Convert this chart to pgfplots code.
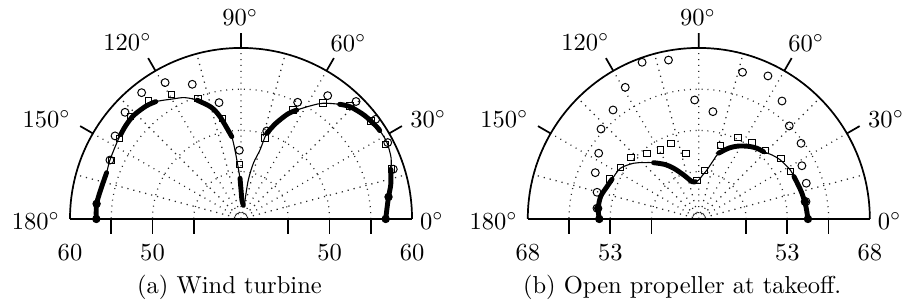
\documentclass[border=0pt]{standalone}
\usepackage{pgfplots}
\pgfplotsset{compat=1.18}
\usepgfplotslibrary{polar}
\pgfplotsset{
  mypolar/.style={
    scale only axis, width=139.5pt,
    xmin=0, xmax=180,
    xtick={30,60,...,150},
    minor xtick={15,45,...,165},
    xticklabels={},
    yticklabels={},
    xmajorgrids, xminorgrids, ymajorgrids,
    grid style={dotted, black!85, line width=0.5pt},
    minor grid style={dotted, black!85, line width=0.5pt},
    xtick align=inside, major tick length=6pt, minor tick length=0pt,
    every y tick/.append style={draw=none},
    axis line style={line width=0.7pt},
    every tick/.append style={line width=0.7pt, black},
    clip=false,
  },
  radlab/.style={
    scale only axis, width=139.5pt, height=20pt,
    xmin=-1, xmax=1, ymin=0, ymax=1,
    axis x line=bottom, axis y line=none,
    x axis line style={draw=none},
    xtick={-0.7588,-0.5176,-0.2764,0.2764,0.5176,0.7588},
    xtick align=outside, major tick length=6pt,
    every tick/.append style={line width=0.7pt, black},
    xticklabel style={font=\normalsize},
    xticklabel shift=1pt,
    extra x ticks={-1,1},
    extra x tick style={major tick style={draw=none}},
  },
  thinline/.style={black, line width=0.45pt, smooth, mark=none},
  thickline/.style={black, line width=2pt, smooth, line cap=round, mark=none},
  sqm/.style={only marks, mark=square, mark size=1.3pt, mark options={solid, draw=black, fill=white, line width=0.4pt}},
  cim/.style={only marks, mark=o, mark size=1.6pt, mark options={solid, draw=black, fill=white, line width=0.4pt}},
}
\begin{document}
\begin{tikzpicture}
% ---------------- (a) Wind turbine ----------------
\begin{polaraxis}[mypolar, at={(0pt,0pt)}, anchor=origin,
  ymin=0, ymax=20.73, ytick={0.73,5.73,10.73,15.73,20.73},
  y filter/.expression={y-39.27}]
\addplot[thinline] coordinates {(180,56.81) (174,56.87) (167,56.6) (161,56.5) (155.8,56.69) (147,57.0) (141,57.25) (136,57.35) (130,57.15) (126,56.85) (120,56.05) (115,55.5) (110.3,54.62) (105,53.3) (101.6,51.92) (96.4,49.31) (91.4,44.2) (90,42.8) (87,41.5) (80,40.95) (76,41.1) (78,41.62) (79.4,44.08) (77.5,46.18) (74.6,47.95) (73.3,50.11) (70,51.6) (66,53.2) (62.9,54.1) (58,55.5) (54.6,56.48) (49.3,57.6) (45.8,58.24) (40,58.8) (34.2,59.16) (28,59.25) (22,58.9) (18.3,58.4) (13,57.9) (8.5,57.35) (4,57.0) (0,56.81)};
\addplot[thickline] coordinates {(180,56.81) (174,56.87) (167,56.6) (161,56.5)};
\addplot[thickline] coordinates {(145,57.08) (141,57.25) (136,57.35) (130,57.15) (126,56.85)};
\addplot[thickline] coordinates {(110.3,54.62) (105,53.3) (101.6,51.92) (96.4,49.31)};
\addplot[thickline] coordinates {(91.4,44.2) (90,42.8) (87,41.5) (80,40.95)};
\addplot[thickline] coordinates {(73.3,50.11) (70,51.6) (66,53.2) (62.9,54.1)};
\addplot[thickline] coordinates {(49.3,57.6) (45.8,58.24) (40,58.8) (34.2,59.16) (32.5,59.2)};
\addplot[thickline] coordinates {(18.3,58.4) (13,57.9) (8.5,57.35) (4,57.0) (0,56.81)};
\addplot[only marks, mark=*, mark size=1.5pt, black] coordinates {(180,56.81) (174,56.87) (0,56.81) (8.5,57.35)};
\addplot[sqm] coordinates {(155.8,56.5) (146.5,56.97) (137.2,57.5) (128,57.43) (119.1,56.57) (109.7,54.81) (100.3,51.67) (91.8,45.9) (73.5,49.5) (64.4,53.9) (54.8,56.5) (46,58.3) (37,59.0) (27.3,59.0) (18.3,58.5)};
\addplot[cim] coordinates {(155.8,56.69) (146.6,57.56) (137.4,58.37) (128.2,58.75) (119.1,58.19) (109.9,56.63) (100.7,53.62) (91.4,47.6) (73.7,50.38) (64.1,54.99) (54.9,57.54) (45.6,59.2) (36.5,59.58) (27.5,59.32) (18.1,58.69)};
\end{polaraxis}
\begin{axis}[radlab, at={(0pt,0pt)}, anchor=origin,
  xticklabels={,$50$,,,$50$,}, extra x tick labels={$60$,$60$}]
\end{axis}
\node[anchor=base] at (-4.7pt,-30.2pt) {(a) Wind turbine};
% ---------------- (b) Open propeller ----------------
\begin{polaraxis}[mypolar, at={(186.7pt,0pt)}, anchor=origin,
  ymin=0, ymax=31.1, ytick={1.1,8.6,16.1,23.6,31.1},
  y filter/.expression={y-36.9}]
\addplot[thinline] coordinates {(180,55.0) (174,55.3) (167,55.2) (160.6,54.6) (155.4,54.25) (147.1,53.88) (139.5,52.5) (134.4,51.24) (128.8,50.03) (122,48.6) (116.4,47.2) (109,45.36) (100.3,43.8) (95.4,43.72) (90,44.0) (85,44.9) (80.5,45.94) (75.9,47.95) (73.2,49.4) (67,50.9) (61.4,52.0) (55,53.0) (50.5,53.55) (46.1,53.88) (41,54.6) (35.9,55.2) (28.2,55.77) (24,55.85) (19,56.0) (14,56.23) (7,56.5) (0,56.75)};
\addplot[thickline] coordinates {(180,55.0) (174,55.3) (167,55.2) (160.6,54.6) (155.4,54.25)};
\addplot[thickline] coordinates {(128.8,50.03) (122,48.6) (116.4,47.2) (109,45.36) (100.3,43.8) (95.4,43.72)};
\addplot[thickline] coordinates {(73.2,49.4) (67,50.9) (61.4,52.0) (55,53.0) (50.5,53.55) (46.1,53.88)};
\addplot[thickline] coordinates {(24,55.85) (19,56.0) (14,56.23) (7,56.5) (0,56.75)};
\addplot[only marks, mark=*, mark size=1.5pt, black] coordinates {(180,55.0) (174,55.3) (0,56.75) (9.2,56.45)};
\addplot[sqm] coordinates {(155.9,54.72) (146.8,53.95) (137.7,53.57) (128.3,52.12) (119.2,51.26) (110.2,51.56) (101,49.06) (92.7,43.86) (83.2,45.74) (73.7,50.8) (64.4,53.37) (55.1,53.8) (45.8,54.23) (36.4,55.48) (27.3,55.63)};
\addplot[cim] coordinates {(174,55.52) (165.3,56.03) (155.9,57.52) (146.7,58.68) (137.4,61.06) (128.2,62.12) (119.2,64.32) (109.9,67.2) (100.8,66.32) (92,58.55) (82.5,56.58) (73.4,64.74) (64.2,65.79) (54.8,63.15) (45.8,60.5) (36.5,60.03) (27.3,58.0) (18.4,57.5) (9.2,56.65)};
\end{polaraxis}
\begin{axis}[radlab, at={(186.7pt,0pt)}, anchor=origin,
  xticklabels={,$53$,,,$53$,}, extra x tick labels={$68$,$68$}]
\end{axis}
\node[anchor=base] at (179.9pt,-30.2pt) {(b) Open propeller at takeoff.};
% angle labels
\foreach \cx in {0pt,186.7pt}{
  \begin{scope}[xshift=\cx]
    \node[anchor=base, inner sep=0pt] at (-46.3pt,68.7pt) {$120^\circ$};
    \node[anchor=base, inner sep=0pt] at (-0.3pt,78.7pt) {$90^\circ$};
    \node[anchor=base, inner sep=0pt] at (43.8pt,68.5pt) {$60^\circ$};
    \node[anchor=base, inner sep=0pt] at (-79.3pt,37.3pt) {$150^\circ$};
    \node[anchor=base, inner sep=0pt] at (76.4pt,37.3pt) {$30^\circ$};
    \node[anchor=base, inner sep=0pt] at (-83.7pt,-4.2pt) {$180^\circ$};
    \node[anchor=base, inner sep=0pt] at (77.8pt,-4.2pt) {$0^\circ$};
  \end{scope}
}
\pgfresetboundingbox
\useasboundingbox (-98.3pt,-34.3pt) rectangle (270.8pt,89.3pt);
\end{tikzpicture}
\end{document}
